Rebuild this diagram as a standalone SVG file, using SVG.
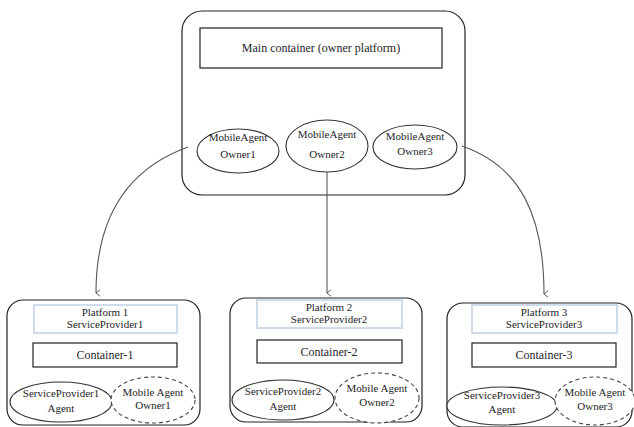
<svg xmlns="http://www.w3.org/2000/svg" width="634" height="427" viewBox="0 0 634 427">
  <defs>
    <marker id="arrow" viewBox="0 0 10 10" refX="5" refY="9" markerWidth="8" markerHeight="8" orient="auto-start-reverse" markerUnits="userSpaceOnUse">
      <path d="M1,4 L5,9 L9,4" fill="none" stroke="#555" stroke-width="1.2"/>
    </marker>
    <style>
      text { font-family: "Liberation Serif", "DejaVu Serif", serif; font-size: 12px; fill: #1e1e28; text-anchor: middle; }
      text.sm { font-size: 11px; }
      .frame { fill: #fff; stroke: #222; stroke-width: 1.2; }
      .box { fill: #fff; stroke: #222; stroke-width: 1.2; }
      .plat { fill: #fff; stroke: #cfdcec; stroke-width: 2; }
      .agent { fill: #fff; stroke: #333; stroke-width: 1.1; }
      .dashed { fill: #fff; stroke: #444; stroke-width: 1.1; stroke-dasharray: 4 3; }
      .link { fill: none; stroke: #555; stroke-width: 1.1; }
    </style>
  </defs>
  <rect width="634" height="427" fill="#fff"/>

  <!-- Owner platform -->
  <g id="main-platform">
    <rect class="frame" x="182" y="11" width="283" height="184" rx="20"/>
    <rect class="box" x="200" y="28" width="242" height="40"/>
    <text x="321" y="52">Main container (owner platform)</text>
  </g>
  <g id="owner1">
    <ellipse class="agent" cx="238" cy="151" rx="41" ry="22"/>
    <text class="sm" x="238" y="141">MobileAgent</text>
    <text class="sm" x="238" y="158">Owner1</text>
  </g>
  <g id="owner2">
    <ellipse class="agent" cx="327" cy="146" rx="41" ry="26"/>
    <text class="sm" x="327" y="138">MobileAgent</text>
    <text class="sm" x="327" y="158">Owner2</text>
  </g>
  <g id="owner3">
    <ellipse class="agent" cx="415" cy="147" rx="42" ry="22"/>
    <text class="sm" x="415" y="140">MobileAgent</text>
    <text class="sm" x="415" y="155">Owner3</text>
  </g>

  <!-- Migration links -->
  <g id="connectors">
    <path class="link" d="M188,147 C130,168 96,215 96,293" marker-end="url(#arrow)"/>
    <path class="link" d="M327,172 L327,293" marker-end="url(#arrow)"/>
    <path class="link" d="M462,146 C520,166 544,215 544,294" marker-end="url(#arrow)"/>
  </g>

  <!-- Service provider platform 1 -->
  <g id="platform1">
    <rect class="frame" x="7" y="300" width="193" height="125" rx="16"/>
    <rect class="plat" x="34" y="305" width="143" height="28"/>
    <text class="sm" x="105" y="316">Platform 1</text>
    <text class="sm" x="105" y="328">ServiceProvider1</text>
    <rect class="box" x="33" y="343" width="144" height="24"/>
    <text x="105" y="359">Container-1</text>
  </g>
  <g id="sp1-agent">
    <ellipse class="agent" cx="61" cy="402" rx="51" ry="20"/>
    <text class="sm" x="61" y="397">ServiceProvider1</text>
    <text class="sm" x="61" y="412">Agent</text>
  </g>
  <g id="sp1-visitor">
    <ellipse class="dashed" cx="153" cy="400" rx="42" ry="23"/>
    <text class="sm" x="153" y="396">Mobile Agent</text>
    <text class="sm" x="153" y="409">Owner1</text>
  </g>

  <!-- Service provider platform 2 -->
  <g id="platform2">
    <rect class="frame" x="230" y="298" width="192" height="124" rx="16"/>
    <rect class="plat" x="257" y="300" width="145" height="28"/>
    <text class="sm" x="329" y="311">Platform 2</text>
    <text class="sm" x="329" y="323">ServiceProvider2</text>
    <rect class="box" x="257" y="340" width="145" height="23"/>
    <text x="329" y="356">Container-2</text>
  </g>
  <g id="sp2-agent">
    <ellipse class="agent" cx="283" cy="400" rx="51" ry="20"/>
    <text class="sm" x="283" y="395">ServiceProvider2</text>
    <text class="sm" x="283" y="410">Agent</text>
  </g>
  <g id="sp2-visitor">
    <ellipse class="dashed" cx="377" cy="398" rx="42" ry="25"/>
    <text class="sm" x="377" y="392">Mobile Agent</text>
    <text class="sm" x="377" y="406">Owner2</text>
  </g>

  <!-- Service provider platform 3 -->
  <g id="platform3">
    <rect class="frame" x="447" y="303" width="185" height="124" rx="16"/>
    <rect class="plat" x="472" y="305" width="145" height="28"/>
    <text class="sm" x="544" y="316">Platform 3</text>
    <text class="sm" x="544" y="328">ServiceProvider3</text>
    <rect class="box" x="472" y="343" width="144" height="24"/>
    <text x="544" y="359">Container-3</text>
  </g>
  <g id="sp3-agent">
    <ellipse class="agent" cx="502" cy="406" rx="55" ry="19"/>
    <text class="sm" x="502" y="399">ServiceProvider3</text>
    <text class="sm" x="502" y="413">Agent</text>
  </g>
  <g id="sp3-visitor">
    <ellipse class="dashed" cx="595" cy="401" rx="40" ry="24"/>
    <text class="sm" x="595" y="396">Mobile Agent</text>
    <text class="sm" x="595" y="410">Owner3</text>
  </g>
</svg>
